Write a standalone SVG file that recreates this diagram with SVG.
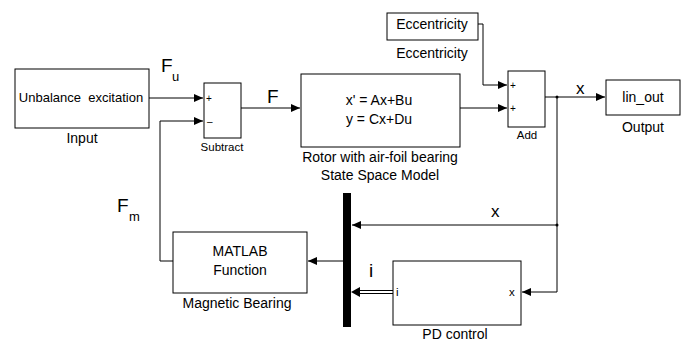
<svg xmlns="http://www.w3.org/2000/svg" width="691" height="345" viewBox="0 0 691 345">
<style>
.blk{fill:#fff;stroke:#000;stroke-width:1}
.ln{fill:none;stroke:#000;stroke-width:1}
text{font-family:"Liberation Sans",Arial,sans-serif;fill:#000}
.t14{font-size:14px}
.t13{font-size:13px}
.t11{font-size:11.5px}
.pm{font-size:10px}
.sig{font-size:19px}
.sx{font-size:17px}
.sub{font-size:13px}
</style>
<defs>
<marker id="ah" markerWidth="10" markerHeight="10" refX="9" refY="5" orient="auto" markerUnits="userSpaceOnUse">
<path d="M0,1 L9,5 L0,9 Z" fill="#000"/>
</marker>
</defs>
<g id="connectors">
<path class="ln" d="M149,98 H203" marker-end="url(#ah)"/>
<path class="ln" d="M241,108 H300" marker-end="url(#ah)"/>
<path class="ln" d="M460,108 H507" marker-end="url(#ah)"/>
<path class="ln" d="M478,24 H483 V85 H507" marker-end="url(#ah)"/>
<path class="ln" d="M545,97 H605" marker-end="url(#ah)"/>
<path class="ln" d="M557,97 V292 H522" marker-end="url(#ah)"/>
<path class="ln" d="M557,225 H352" marker-end="url(#ah)"/>
<path class="ln" d="M343,261 H308" marker-end="url(#ah)"/>
<path class="ln" d="M173,261 H160 V121 H203" marker-end="url(#ah)"/>
<path class="ln" d="M393,290.5 H360 M393,293.5 H360" />
<path d="M360,287 L351,292 L360,297 Z" fill="#000"/>
<circle cx="557" cy="97" r="1.5" fill="#000"/>
<circle cx="557" cy="225" r="1.5" fill="#000"/>
</g>
<g id="input">
<rect class="blk" x="15" y="69" width="134" height="59"/>
<text class="t13" x="81" y="102" text-anchor="middle" xml:space="preserve">Unbalance  excitation</text>
<text class="t14" x="82" y="143" text-anchor="middle">Input</text>
</g>
<g id="subtract">
<rect class="blk" x="204" y="83" width="37" height="55"/>
<text class="pm" x="206" y="102">+</text>
<text class="pm" x="207" y="125">–</text>
<text class="t11" x="222" y="151" text-anchor="middle">Subtract</text>
</g>
<g id="rotor">
<rect class="blk" x="301" y="74" width="159" height="73"/>
<text class="t14" x="379" y="105" text-anchor="middle">x' = Ax+Bu</text>
<text class="t14" x="379" y="124" text-anchor="middle">y = Cx+Du</text>
<text class="t14" x="380" y="162" text-anchor="middle">Rotor with air-foil bearing</text>
<text class="t14" x="380" y="180" text-anchor="middle">State Space Model</text>
</g>
<g id="eccentricity">
<rect class="blk" x="387" y="13" width="91" height="27"/>
<text class="t14" x="432" y="29" text-anchor="middle">Eccentricity</text>
<text class="t14" x="432" y="58" text-anchor="middle">Eccentricity</text>
</g>
<g id="add">
<rect class="blk" x="508" y="71" width="37" height="56"/>
<text class="pm" x="510" y="89">+</text>
<text class="pm" x="510" y="112">+</text>
<text class="t11" x="527" y="139" text-anchor="middle">Add</text>
</g>
<g id="output">
<rect class="blk" x="606" y="80" width="74" height="35"/>
<text class="t14" x="643" y="102" text-anchor="middle">lin_out</text>
<text class="t14" x="643" y="132" text-anchor="middle">Output</text>
</g>
<g id="mux">
<rect x="343" y="193" width="8" height="134" fill="#000"/>
</g>
<g id="pdcontrol">
<rect class="blk" x="393" y="261" width="128" height="64"/>
<text class="t11" x="396" y="296">i</text>
<text class="t11" x="509" y="296">x</text>
<text class="t14" x="455" y="339" text-anchor="middle">PD control</text>
</g>
<g id="magbearing">
<rect class="blk" x="173" y="232" width="134" height="61"/>
<text class="t14" x="240" y="256" text-anchor="middle">MATLAB</text>
<text class="t14" x="240" y="275" text-anchor="middle">Function</text>
<text class="t14" x="237" y="308" text-anchor="middle">Magnetic Bearing</text>
</g>
<g id="labels">
<text class="sig" x="161" y="72">F</text>
<text class="sub" x="172" y="81">u</text>
<text class="sig" x="267" y="103">F</text>
<text class="sx" x="576" y="94">x</text>
<text class="sx" x="491" y="217">x</text>
<text class="sig" x="369" y="277">i</text>
<text class="sig" x="117" y="212">F</text>
<text class="sub" x="129" y="221">m</text>
</g>
</svg>
